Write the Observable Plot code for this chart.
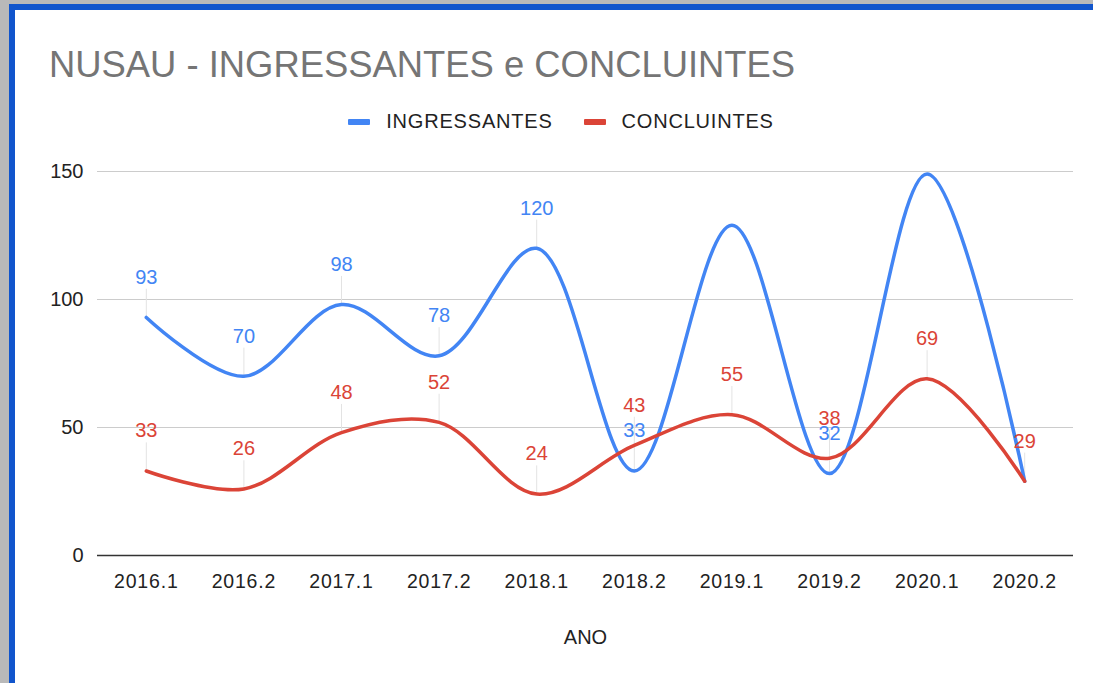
<!DOCTYPE html>
<html>
<head>
<meta charset="utf-8">
<script src="https://cdn.jsdelivr.net/npm/d3@7"></script>
<script src="https://cdn.jsdelivr.net/npm/@observablehq/plot@0.6"></script>
<style>
  html, body { margin: 0; padding: 0; width: 1093px; height: 683px; overflow: hidden; background: #b9b9b9; font-family: "Liberation Sans", Arial, sans-serif; }
  #frame { position: absolute; left: 9px; top: 4px; width: 1200px; height: 800px; background: #fff; border-left: 6px solid #1155cc; border-top: 6px solid #1155cc; box-sizing: border-box; }
  #title { position: absolute; left: 49px; top: 44px; font-size: 36.4px; line-height: 1.149; color: #757575; white-space: nowrap; }
  #legend { position: absolute; top: 110px; left: 0; width: 1122px; display: flex; justify-content: center; gap: 31px; font-size: 20px; letter-spacing: 0.8px; color: #222; }
  .item { display: flex; align-items: center; }
  .sw { width: 22px; height: 6px; margin-right: 16px; border-radius: 1px; }
  #chart { position: absolute; left: 0; top: 140px; }
</style>
</head>
<body>
<div id="frame"></div>
<div id="title">NUSAU - INGRESSANTES e CONCLUINTES</div>
<div id="legend"></div>
<div id="chart"></div>
<script>
const periods = ["2016.1","2016.2","2017.1","2017.2","2018.1","2018.2","2019.1","2019.2","2020.1","2020.2"];
const ingressantes = [93, 70, 98, 78, 120, 33, 129, 32, 149, 29];
const concluintes = [33, 26, 48, 52, 24, 43, 55, 38, 69, 29];
const seriesNames = ["INGRESSANTES", "CONCLUINTES"];
const seriesColors = ["#4285f4", "#db4437"];
const yTicks = [0, 50, 100, 150];
const hiddenLabels = [["INGRESSANTES","2019.1"],["INGRESSANTES","2020.1"],["INGRESSANTES","2020.2"]];

const legend = document.getElementById("legend");
seriesNames.forEach((n, i) => {
  const it = document.createElement("div"); it.className = "item";
  const sw = document.createElement("div"); sw.className = "sw"; sw.style.background = seriesColors[i];
  const t = document.createElement("span"); t.textContent = n;
  it.appendChild(sw); it.appendChild(t); legend.appendChild(it);
});

const rows = [];
periods.forEach((p, i) => {
  rows.push({period: p, value: ingressantes[i], series: seriesNames[0]});
  rows.push({period: p, value: concluintes[i], series: seriesNames[1]});
});
const labelRows = rows.filter(d => !hiddenLabels.some(([s, p]) => s === d.series && p === d.period));

const chart = Plot.plot({
  width: 1093,
  height: 540,
  marginLeft: 97,
  marginRight: 20,
  marginTop: 31,
  marginBottom: 125,
  style: { fontFamily: "'Liberation Sans', Arial, sans-serif", fontSize: "20px", color: "#222", background: "transparent" },
  x: { type: "point", domain: periods, padding: 0.5, round: false, label: null },
  y: { domain: [0, 150], label: null },
  color: { domain: seriesNames, range: seriesColors },
  marks: [
    Plot.gridY(yTicks, { stroke: "#cccccc", strokeOpacity: 1, strokeWidth: 1 }),
    Plot.ruleX(labelRows, { x: "period", y1: "value", y2: d => d.value + 11, stroke: "#e3e3e3", strokeWidth: 1 }),
    Plot.ruleY([0], { stroke: "#333", strokeWidth: 1.5 }),
    Plot.line(rows, { x: "period", y: "value", z: "series", stroke: "series", strokeWidth: 3.5, curve: "catmull-rom" }),
    Plot.text(labelRows, { x: "period", y: "value", text: d => String(d.value), fill: "series", dy: -40, fontSize: 20 }),
    Plot.axisY(yTicks, { tickSize: 0, tickPadding: 14, fontSize: 20, fill: "#222" }),
    Plot.axisX({ tickSize: 0, tickPadding: 19, fontSize: 19.5, fill: "#222", label: "ANO", labelAnchor: "center", labelOffset: 88 })
  ]
});
d3.select(chart).selectAll('g[aria-label="x-axis tick label"]').attr("letter-spacing", "0.8px");
d3.select(chart).selectAll('g[aria-label="x-axis label"]').attr("font-size", "20px");
document.getElementById("chart").appendChild(chart);
</script>
</body>
</html>
